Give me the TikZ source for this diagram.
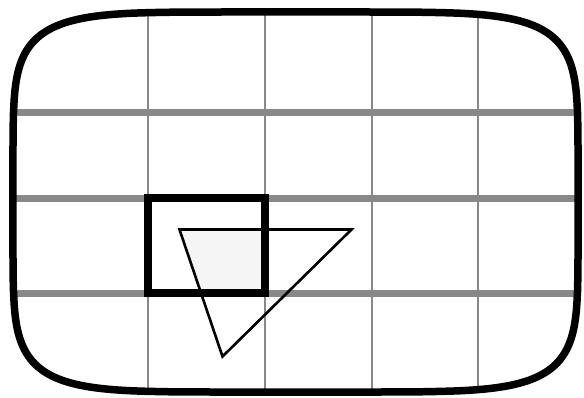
\documentclass[tikz,border=0pt]{standalone}
\begin{document}
\begin{tikzpicture}[x=1pt,y=-1pt]
\definecolor{gridgray}{HTML}{888888}
\tikzset{thingrid/.style={draw=gridgray, line width=2.8pt},
         thickgrid/.style={draw=gridgray, line width=7pt},
         frame/.style={draw=black, line width=7.5pt},
         box/.style={draw=black, line width=7.5pt},
         tri/.style={draw=black, line width=2.6pt, line join=miter},
         overlap/.style={fill=black!4}}
\useasboundingbox (0,0) rectangle (584,397);
% triangle vertices
\coordinate (A) at (179.5,229.5);
\coordinate (B) at (351.5,229.5);
\coordinate (C) at (222.5,356.5);
% grid clipped to the superellipse
\begin{scope}
  \clip plot[domain=0.5:359.5,samples=360] ({295.5+282.5*cos(\x)*pow(abs(cos(\x)),-2/3)}, {202+190*sin(\x)*pow(abs(sin(\x)),-2/3)}) -- cycle;
  \foreach \gx in {148,265,372,478} \draw[thingrid] (\gx,0) -- (\gx,397);
  \foreach \gy in {112,198,293} \draw[thickgrid] (0,\gy) -- (584,\gy);
\end{scope}
% overlap fill
\begin{scope}
  \clip (148,198) rectangle (265,293);
  \fill[overlap] (A) -- (B) -- (C) -- cycle;
\end{scope}
\draw[box] (148,198) rectangle (265,293);
\draw[tri] (A) -- (B) -- (C) -- cycle;
\draw[frame] plot[domain=0.5:359.5,samples=360] ({295.5+282.5*cos(\x)*pow(abs(cos(\x)),-2/3)}, {202+190*sin(\x)*pow(abs(sin(\x)),-2/3)}) -- cycle;
\end{tikzpicture}
\end{document}
